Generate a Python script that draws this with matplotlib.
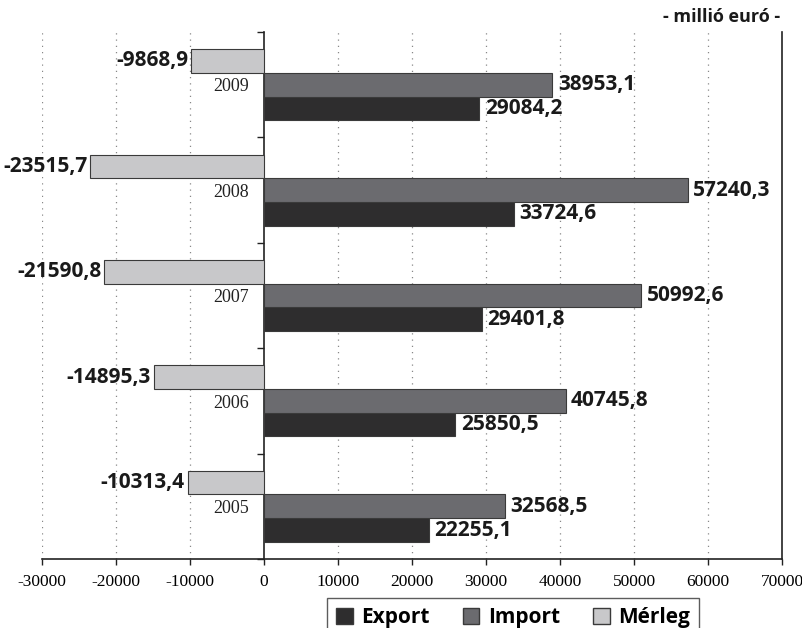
import numpy as np
import matplotlib
matplotlib.use('Agg')
import matplotlib.pyplot as plt
from matplotlib.patches import Patch

years = ['2005', '2006', '2007', '2008', '2009']
export_vals = [22255.1, 25850.5, 29401.8, 33724.6, 29084.2]
import_vals = [32568.5, 40745.8, 50992.6, 57240.3, 38953.1]
merleg_vals = [-10313.4, -14895.3, -21590.8, -23515.7, -9868.9]

c_export = '#2e2d2e'
c_import = '#6b6b6f'
c_merleg = '#c8c8ca'
edge = '#3a3a3a'

serif = 'Liberation Serif'
sans = 'Open Sans'

def fmt(v):
    return f'{v:.1f}'.replace('.', ',')

fig = plt.figure(figsize=(8.03, 6.28), dpi=100)
ax = fig.add_axes([42/803, 1-559/628, 740/803, (559-32)/628])

y = np.arange(len(years))
h = 0.225

b_exp = ax.barh(y - h, export_vals, height=h, color=c_export, edgecolor=edge, linewidth=0.8, zorder=3)
b_imp = ax.barh(y, import_vals, height=h, color=c_import, edgecolor=edge, linewidth=0.8, zorder=3)
b_mer = ax.barh(y + h, merleg_vals, height=h, color=c_merleg, edgecolor=edge, linewidth=0.8, zorder=3)

# value labels
for bars, vals in [(b_exp, export_vals), (b_imp, import_vals)]:
    for b, v in zip(bars, vals):
        ax.annotate(fmt(v), (v, b.get_y() + b.get_height()/2), xytext=(4, 0),
                    textcoords='offset points', ha='left', va='center',
                    fontsize=15, fontweight='bold', family=sans, color='#1a1a1a')
for b, v in zip(b_mer, merleg_vals):
    ax.annotate(fmt(v), (v, b.get_y() + b.get_height()/2), xytext=(-2, 0),
                textcoords='offset points', ha='right', va='center',
                fontsize=15, fontweight='bold', family=sans, color='#1a1a1a')

ax.set_xlim(-30000, 70000)
ax.set_ylim(-0.5, 4.5)
ax.set_xticks(np.arange(-30000, 70001, 10000))
ax.set_xticklabels([str(t) for t in range(-30000, 70001, 10000)], family=serif, fontsize=12.5)
ax.tick_params(axis='x', direction='out', length=4, width=1, pad=7, color='#222222')

# year labels next to the zero line, ticks at group boundaries
ax.set_yticks(y)
ax.set_yticklabels([])
for yi, lab in zip(y, years):
    ax.text(-2000, yi - 0.02, lab, ha='right', va='center', family=serif, fontsize=13, color='#222222')
ax.set_yticks(np.arange(-0.5, 4.6, 1), minor=True)
ax.tick_params(axis='y', which='major', length=0)
ax.tick_params(axis='y', which='minor', direction='out', length=5, width=1, color='#222222')

ax.spines['left'].set_position(('data', 0))
for s in ['left', 'bottom', 'right']:
    ax.spines[s].set_color('#222222')
    ax.spines[s].set_linewidth(1.2)
ax.spines['top'].set_visible(False)

for t in range(-30000, 70000, 10000):
    if t != 0:
        ax.axvline(t, color='#888888', linestyle=(0, (1, 4)), linewidth=0.9, zorder=0)

fig.text(780/803, 1-17/628, '- millió euró -', ha='right', va='center',
         fontsize=13, fontweight='bold', family=sans, color='#1a1a1a')

handles = [Patch(facecolor=c_export, edgecolor=edge, label='Export'),
           Patch(facecolor=c_import, edgecolor=edge, label='Import'),
           Patch(facecolor=c_merleg, edgecolor=edge, label='Mérleg')]
leg = fig.legend(handles=handles, loc='upper center', bbox_to_anchor=(513/803, 1-598/628),
                 ncol=3, frameon=True, fancybox=False, edgecolor='#333333',
                 prop={'family': sans, 'weight': 'bold', 'size': 15},
                 handlelength=0.8, handleheight=0.8, handletextpad=0.4,
                 columnspacing=1.6, borderpad=0.45, borderaxespad=0)
leg.get_frame().set_linewidth(1.0)

fig.savefig('out.png', dpi=100)
